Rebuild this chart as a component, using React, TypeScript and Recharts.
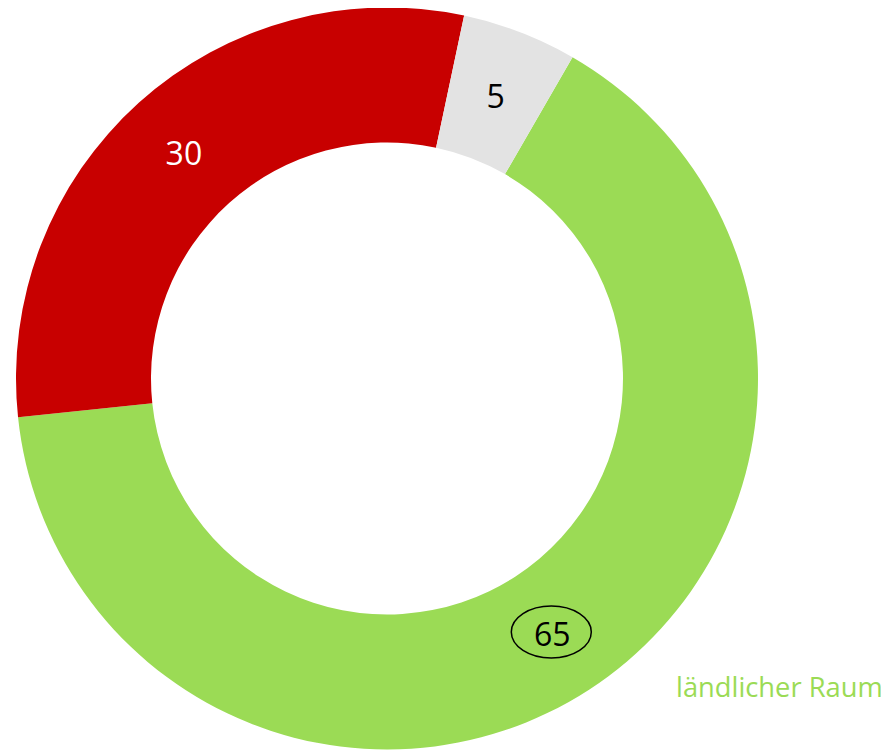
import React from "react";
import { PieChart, Pie, Cell } from "recharts";

const categories = ["ländlicher Raum", "städtischer Raum", "keine Angabe"];
const values = [65, 30, 5];
const colors = ["#9BDB55", "#C80000", "#E3E3E3"];
const labelColors = ["#000000", "#FFFFFF", "#000000"];
const circled = [true, false, false];
const titleText = "ländlicher Raum";

const data = categories.map((name, i) => ({ name, value: values[i] }));

const RADIAN = Math.PI / 180;
const FONT = "'Open Sans', sans-serif";

const renderLabel = (props: any) => {
  const { cx, cy, midAngle, innerRadius, outerRadius, index, value } = props;
  const r = (innerRadius + outerRadius) / 2;
  const x = cx + r * Math.cos(-midAngle * RADIAN);
  const y = cy + r * Math.sin(-midAngle * RADIAN);
  return (
    <g key={`lbl-${index}`}>
      {circled[index] && (
        <ellipse cx={x - 1} cy={y - 1} rx={40} ry={26} fill="none" stroke="#000" strokeWidth={1.5} />
      )}
      <text
        x={x}
        y={y}
        fill={labelColors[index]}
        textAnchor="middle"
        dominantBaseline="central"
        fontFamily={FONT}
        fontSize={32}
      >
        {value}
      </text>
    </g>
  );
};

export default function App() {
  return (
    <div style={{ position: "relative", width: 889, height: 750 }}>
      <PieChart width={889} height={750} margin={{ top: 0, right: 0, bottom: 0, left: 0 }}>
        <Pie
          data={data}
          dataKey="value"
          nameKey="name"
          cx={379}
          cy={370.5}
          innerRadius={236}
          outerRadius={371}
          startAngle={60}
          endAngle={-300}
          stroke="none"
          label={renderLabel}
          labelLine={false}
          isAnimationActive={false}
        >
          {data.map((d, i) => (
            <Cell key={d.name} fill={colors[i]} />
          ))}
        </Pie>
      </PieChart>
      <svg
        width={889}
        height={750}
        style={{ position: "absolute", left: 0, top: 0, pointerEvents: "none" }}
      >
        <text x={668} y={689} fill="#9BDB55" fontFamily={FONT} fontSize={27.3}>
          {titleText}
        </text>
      </svg>
    </div>
  );
}
